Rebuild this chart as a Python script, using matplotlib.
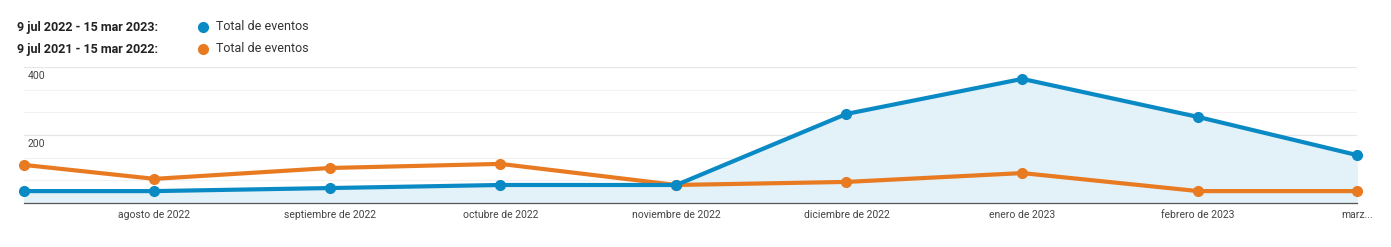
import matplotlib.pyplot as plt
import matplotlib.dates as mdates
import numpy as np
import pandas as pd

plt.rcParams['font.family'] = ['Roboto', 'DejaVu Sans']

fechas = pd.to_datetime(["2022-07-09", "2022-08-01", "2022-09-01", "2022-10-01", "2022-11-01",
                         "2022-12-01", "2023-01-01", "2023-02-01", "2023-03-01"])
actual = [35, 35, 44, 53, 53, 262, 365, 253, 141]
anterior = [112, 71, 103, 115, 53, 62, 88, 35, 35]
etiquetas = ["agosto de 2022", "septiembre de 2022", "octubre de 2022", "noviembre de 2022",
             "diciembre de 2022", "enero de 2023", "febrero de 2023", "marz..."]
rango1 = "9 jul 2022 - 15 mar 2023:"
rango2 = "9 jul 2021 - 15 mar 2022:"

azul = "#0a8ac4"
naranja = "#e87b22"

fig = plt.figure(figsize=(13.91, 2.47), dpi=100)
ax = fig.add_axes([24/1391, 44/247, 1333/1391, 136/247])

ax.fill_between(fechas, actual, 0, color="#e3f1f9", zorder=1)
ax.plot(fechas, anterior, "-o", color=naranja, lw=3, ms=7, zorder=3, clip_on=False)
ax.plot(fechas, actual, "-o", color=azul, lw=3, ms=7, zorder=4, clip_on=False)

ax.set_xlim(fechas[0], fechas[-1])
ax.set_ylim(0, 400)

# gridlines
for v in np.arange(200/3, 401, 200/3):
    ax.axhline(v, color="#f2f2f2", lw=0.8, zorder=0)
for v in [200, 400]:
    ax.axhline(v, color="#e6e6e6", lw=0.8, zorder=0)
    ax.text(0.003, v - 12, str(v), transform=ax.get_yaxis_transform(), fontsize=7.5,
            color="#444444", va="top", ha="left")

ax.set_yticks([])
ax.set_xticks(fechas[1:])
ax.set_xticklabels(etiquetas, fontsize=7.5, color="#444444")
ax.tick_params(axis="x", length=0, pad=5)
for s in ["top", "right", "left"]:
    ax.spines[s].set_visible(False)
ax.spines["bottom"].set_color("#555555")
ax.spines["bottom"].set_linewidth(0.9)

# legend
fig.text(17/1391, 1 - 27/247, rango1, fontsize=9, fontweight="bold", color="#222222", va="center")
fig.text(17/1391, 1 - 49/247, rango2, fontsize=9, fontweight="bold", color="#222222", va="center")
fig.lines.append(plt.Line2D([203/1391], [1 - 27/247], marker="o", ms=7, color=azul,
                            transform=fig.transFigure))
fig.lines.append(plt.Line2D([203/1391], [1 - 49/247], marker="o", ms=7, color=naranja,
                            transform=fig.transFigure))
fig.text(216/1391, 1 - 27/247, "Total de eventos", fontsize=9, color="#333333", va="center")
fig.text(216/1391, 1 - 49/247, "Total de eventos", fontsize=9, color="#333333", va="center")

fig.savefig("out.png", dpi=100)
